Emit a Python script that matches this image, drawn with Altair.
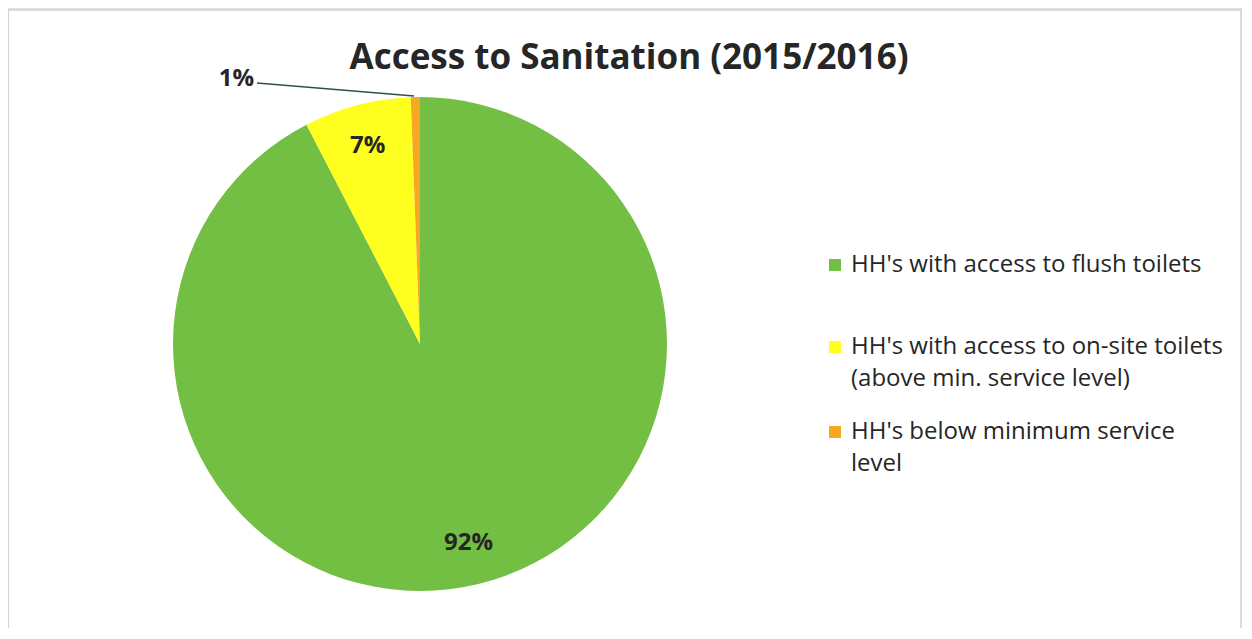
import altair as alt
import pandas as pd

categories = [
    "HH's with access to flush toilets",
    "HH's with access to on-site toilets (above min. service level)",
    "HH's below minimum service level",
]
values = [92.4, 7.0, 0.6]
pct_labels = ["92%", "7%", "1%"]
legend_lines = [
    ["HH's with access to flush toilets"],
    ["HH's with access to on-site toilets", "(above min. service level)"],
    ["HH's below minimum service", "level"],
]
colors = ["#72bf44", "#ffff1f", "#f7a823"]
title_text = "Access to Sanitation (2015/2016)"

df = pd.DataFrame({
    "category": categories,
    "value": values,
    "label": pct_labels,
    "idx": list(range(len(categories))),
})

FONT = "Open Sans"
TXT = "#262626"
CX, CY, R = 412, 336, 247
LR = 205

color_scale = alt.Scale(domain=categories, range=colors)

pie = alt.Chart(df).mark_arc(outerRadius=R).encode(
    theta=alt.Theta("value:Q", stack=True),
    color=alt.Color("category:N", scale=color_scale, legend=None),
    order=alt.Order("idx:Q"),
    x=alt.value(CX), y=alt.value(CY),
)

inner_labels = alt.Chart(df).transform_joinaggregate(
    total="sum(value)"
).transform_window(
    cum="sum(value)", sort=[alt.SortField("idx")], frame=[None, 0]
).transform_calculate(
    mid="2*PI*(datum.cum - datum.value/2)/datum.total",
).transform_calculate(
    px=f"{CX} + {LR}*sin(datum.mid)",
    py=f"{CY} - {LR}*cos(datum.mid)",
).transform_filter(alt.datum.idx < 2).mark_text(
    font=FONT, fontSize=24, fontWeight="bold", color=TXT
).encode(
    x=alt.X("px:Q", scale=None), y=alt.Y("py:Q", scale=None), text="label:N"
)

outer_label = alt.Chart(df).transform_filter(alt.datum.idx == 2).mark_text(
    font=FONT, fontSize=24, fontWeight="bold", color=TXT, align="right", baseline="alphabetic"
).encode(x=alt.value(246), y=alt.value(78), text="label:N")

leader = alt.Chart(df).transform_filter(alt.datum.idx == 2).mark_rule(
    color="#2f4f4f", strokeWidth=1.5
).encode(x=alt.value(249), y=alt.value(75), x2=alt.value(406), y2=alt.value(88))

title = alt.Chart(pd.DataFrame({"t": [title_text]})).mark_text(
    font=FONT, fontSize=35, fontWeight="bold", color=TXT, align="center", baseline="alphabetic"
).encode(x=alt.value(621), y=alt.value(61), text="t:N")

legend_layers = []
ys = [257, 339, 424]
for i, cat in enumerate(categories):
    ldf = pd.DataFrame({"category": [cat], "lines": [legend_lines[i]]})
    sq = alt.Chart(ldf).mark_square(size=144, opacity=1).encode(
        x=alt.value(827), y=alt.value(ys[i]),
        color=alt.Color("category:N", scale=color_scale, legend=None),
    )
    tx = alt.Chart(ldf).mark_text(
        font=FONT, fontSize=24, color=TXT, align="left", baseline="middle", lineHeight=32
    ).encode(x=alt.value(843), y=alt.value(ys[i]), text="lines")
    legend_layers += [sq, tx]

def frame_rule(x, x2, y, y2):
    return alt.Chart(df).transform_filter(alt.datum.idx == 0).mark_rule(
        color="#cfcfcf", strokeWidth=1.5
    ).encode(x=alt.value(x), x2=alt.value(x2), y=alt.value(y), y2=alt.value(y2))

frame = [frame_rule(0, 1234, 2, 2), frame_rule(0, 0, 2, 620), frame_rule(1233, 1233, 2, 620)]

chart = alt.layer(pie, inner_labels, leader, outer_label, title, *legend_layers, *frame).properties(
    width=1234, height=620, padding=0, autosize=alt.AutoSizeParams(type="none")
).configure_view(stroke=None).configure(background="white")

chart.save("out.html", embed_options={"renderer": "svg", "actions": False})
